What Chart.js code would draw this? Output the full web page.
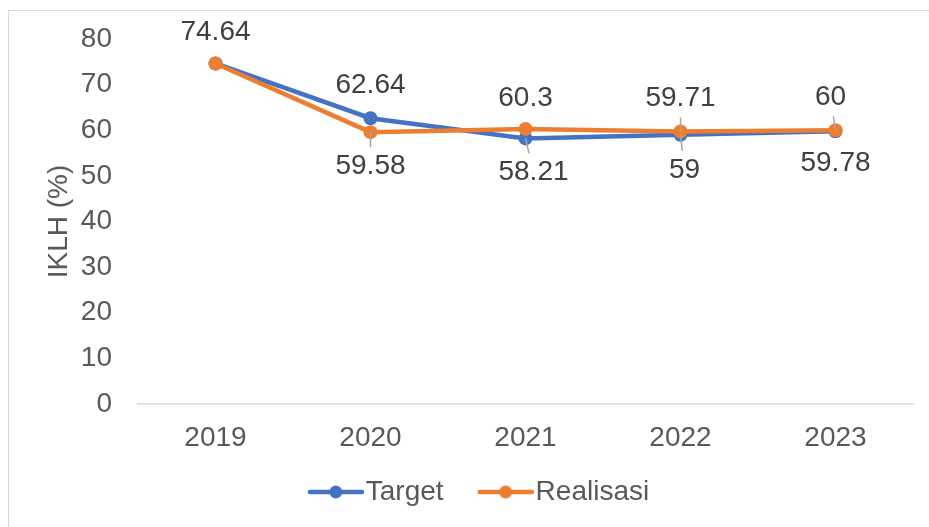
<!DOCTYPE html>
<html>
<head>
<meta charset="utf-8">
<script src="https://cdn.jsdelivr.net/npm/chart.js@4.4.1/dist/chart.umd.min.js"></script>
<style>
  html, body { margin: 0; padding: 0; background: #ffffff; }
  #wrap { position: relative; width: 929px; height: 527px; overflow: hidden; }
  #frame { position: absolute; left: 8px; top: 10px; width: 940px; height: 540px; border: 1.5px solid #d9d9d9; box-sizing: border-box; }
  #c { position: absolute; left: 0; top: 0; }
</style>
</head>
<body>
<div id="wrap">
  <div id="frame"></div>
  <canvas id="c" width="929" height="527"></canvas>
</div>
<script>
// ---- data ----
const categories = ['2019', '2020', '2021', '2022', '2023'];
const seriesNames = ['Target', 'Realisasi'];
const targetValues = [74.64, 62.64, 58.21, 59, 59.78];
const realisasiValues = [74.64, 59.58, 60.3, 59.71, 60];
const yAxisTitle = 'IKLH (%)';
const yMin = 0, yMax = 80, yStep = 10;

// ---- styles ----
const BLUE = '#4472C4';
const ORANGE = '#ED7D31';
const FONT = "'Liberation Sans', Arial, sans-serif";
const FS = 28;

// legend symbol: transparent left part, then line with a dot
function legendSymbol(color) {
  const c = document.createElement('canvas');
  c.width = 92; c.height = 16;
  const g = c.getContext('2d');
  g.strokeStyle = color; g.lineWidth = 4.5; g.lineCap = 'round';
  g.beginPath(); g.moveTo(38, 8); g.lineTo(90, 8); g.stroke();
  g.fillStyle = color;
  g.beginPath(); g.arc(64, 8, 6.5, 0, Math.PI * 2); g.fill();
  return c;
}

// label placement (pixel offsets from the point), per dataset
const labelPlacement = [
  [{dx: 0, dy: -31}, {dx: 0, dy: -33}, {dx: 8, dy: 34, leader: true}, {dx: 4, dy: 35, leader: true}, {dx: 0, dy: 32}],
  [null, {dx: 0, dy: 34, leader: true}, {dx: 0, dy: -31}, {dx: 0, dy: -33, leader: true}, {dx: -5, dy: -33, leader: true}]
];

const dataLabelPlugin = {
  id: 'dataLabels',
  afterDatasetsDraw(chart) {
    const ctx = chart.ctx;
    ctx.save();
    chart.data.datasets.forEach((ds, di) => {
      const meta = chart.getDatasetMeta(di);
      meta.data.forEach((pt, i) => {
        const pl = labelPlacement[di][i];
        if (!pl) return;
        const lx = pt.x + pl.dx, ly = pt.y + pl.dy;
        if (pl.leader) {
          const dir = pl.dy > 0 ? 1 : -1;
          const endY = ly - dir * 19;
          const t = (endY - pt.y) / (ly - pt.y);
          const endX = pt.x + (lx - pt.x) * t;
          ctx.strokeStyle = '#a6a6a6';
          ctx.lineWidth = 1.5;
          ctx.beginPath();
          ctx.moveTo(pt.x, pt.y);
          ctx.lineTo(endX, endY);
          ctx.stroke();
        }
        ctx.fillStyle = '#404040';
        ctx.font = FS + 'px ' + FONT;
        ctx.textAlign = 'center';
        ctx.textBaseline = 'middle';
        ctx.fillText(String(ds.data[i]), lx, ly);
      });
    });
    ctx.restore();
  }
};

const ctx = document.getElementById('c').getContext('2d');
new Chart(ctx, {
  type: 'line',
  data: {
    labels: categories,
    datasets: [
      {
        label: seriesNames[0], data: targetValues,
        borderColor: BLUE, backgroundColor: BLUE,
        borderWidth: 4.5, pointRadius: 7, pointHoverRadius: 7,
        pointBackgroundColor: BLUE, pointBorderColor: BLUE, pointBorderWidth: 0,
        tension: 0, order: 1, legendSymbol: legendSymbol(BLUE)
      },
      {
        label: seriesNames[1], data: realisasiValues,
        borderColor: ORANGE, backgroundColor: ORANGE,
        borderWidth: 4.5, pointRadius: 7, pointHoverRadius: 7,
        pointBackgroundColor: ORANGE, pointBorderColor: ORANGE, pointBorderWidth: 0,
        tension: 0, order: 0, legendSymbol: legendSymbol(ORANGE)
      }
    ]
  },
  options: {
    responsive: false,
    animation: false,
    devicePixelRatio: 1,
    layout: { padding: { left: 20, right: 16, top: 39, bottom: 11 } },
    scales: {
      x: {
        offset: true,
        grid: { display: false, drawTicks: false },
        border: { display: true, color: '#d9d9d9', width: 1.5 },
        ticks: { color: '#595959', font: { size: FS, family: FONT }, padding: 17, maxRotation: 0 },
        afterFit(scale) { scale.height = 64; }
      },
      y: {
        min: yMin, max: yMax,
        grid: { display: false, drawTicks: false },
        border: { display: false },
        ticks: { stepSize: yStep, color: '#595959', font: { size: FS, family: FONT }, padding: 26 },
        title: { display: true, text: yAxisTitle, color: '#595959', font: { size: FS, family: FONT }, padding: { top: 22, bottom: 0 } },
        afterFit(scale) { scale.width = 118; scale.paddingTop = 0; scale.paddingBottom = 0; }
      }
    },
    plugins: {
      tooltip: { enabled: false },
      legend: {
        position: 'bottom',
        labels: {
          usePointStyle: true,
          pointStyleWidth: 68,
          padding: 10,
          color: '#595959',
          font: { size: FS, family: FONT },
          sort: (a, b) => a.datasetIndex - b.datasetIndex,
          generateLabels(chart) {
            return chart.data.datasets.map((ds, i) => ({
              text: ds.label,
              fillStyle: ds.borderColor,
              strokeStyle: ds.borderColor,
              fontColor: '#595959',
              lineWidth: 0,
              pointStyle: ds.legendSymbol,
              hidden: false,
              datasetIndex: i
            }));
          }
        }
      }
    }
  },
  plugins: [dataLabelPlugin]
});
</script>
</body>
</html>
